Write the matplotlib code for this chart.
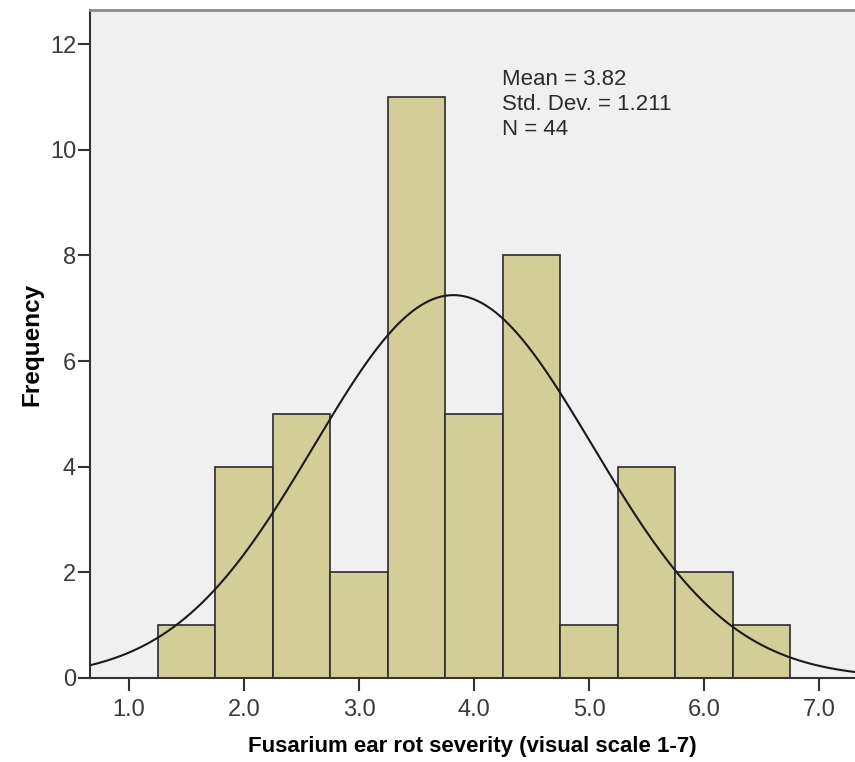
import numpy as np
import matplotlib.pyplot as plt

plt.rcParams['font.family'] = ['Liberation Sans', 'DejaVu Sans']

# Data
bin_edges = [1.25, 1.75, 2.25, 2.75, 3.25, 3.75, 4.25, 4.75, 5.25, 5.75, 6.25, 6.75]
counts = [1, 4, 5, 2, 11, 5, 8, 1, 4, 2, 1]
mean, std_dev, n = 3.82, 1.211, 44
x_ticks = [1.0, 2.0, 3.0, 4.0, 5.0, 6.0, 7.0]
y_ticks = [0, 2, 4, 6, 8, 10, 12]

fig = plt.figure(figsize=(8.55, 7.62), dpi=100)
ax = fig.add_axes([90 / 855, 84 / 762, 765 / 855, 668 / 762])
ax.set_facecolor('#F0F0F0')

lefts = np.array(bin_edges[:-1])
widths = np.diff(bin_edges)
ax.bar(lefts, counts, width=widths, align='edge', color='#D3CE97',
       edgecolor='#2b2b2b', linewidth=1.2, zorder=2)

# Normal curve scaled to the histogram
xs = np.linspace(0.6, 7.4, 400)
bw = widths[0]
ys = n * bw / (std_dev * np.sqrt(2 * np.pi)) * np.exp(-0.5 * ((xs - mean) / std_dev) ** 2)
ax.plot(xs, ys, color='#1a1a1a', linewidth=1.5, zorder=3)

ax.set_xlim(0.661, 7.313)
ax.set_ylim(0, 12.644)
ax.set_xticks(x_ticks)
ax.set_xticklabels([f'{t:.1f}' for t in x_ticks])
ax.set_yticks(y_ticks)

for side in ['left', 'bottom']:
    ax.spines[side].set_color('#333333')
    ax.spines[side].set_linewidth(1.5)
ax.spines['top'].set_color('#8a8a8a')
ax.spines['top'].set_linewidth(2)
ax.spines['right'].set_visible(False)

ax.tick_params(axis='both', direction='out', length=9, width=1.5,
               color='#333333', labelcolor='#3a3a3a', labelsize=17)
ax.tick_params(axis='x', pad=6)
ax.tick_params(axis='y', pad=1)

ax.set_xlabel('Fusarium ear rot severity (visual scale 1-7)', fontsize=16,
              fontweight='bold', labelpad=11)
ax.set_ylabel('Frequency', fontsize=17.5, fontweight='bold', labelpad=5)

ax.text(0.539, 0.912, f'Mean = {mean:.2f}\nStd. Dev. = {std_dev:.3f}\nN = {n}',
        transform=ax.transAxes, fontsize=16, color='#2b2b2b', va='top',
        ha='left', linespacing=1.25)

fig.savefig('out.png', dpi=100, facecolor='white')
